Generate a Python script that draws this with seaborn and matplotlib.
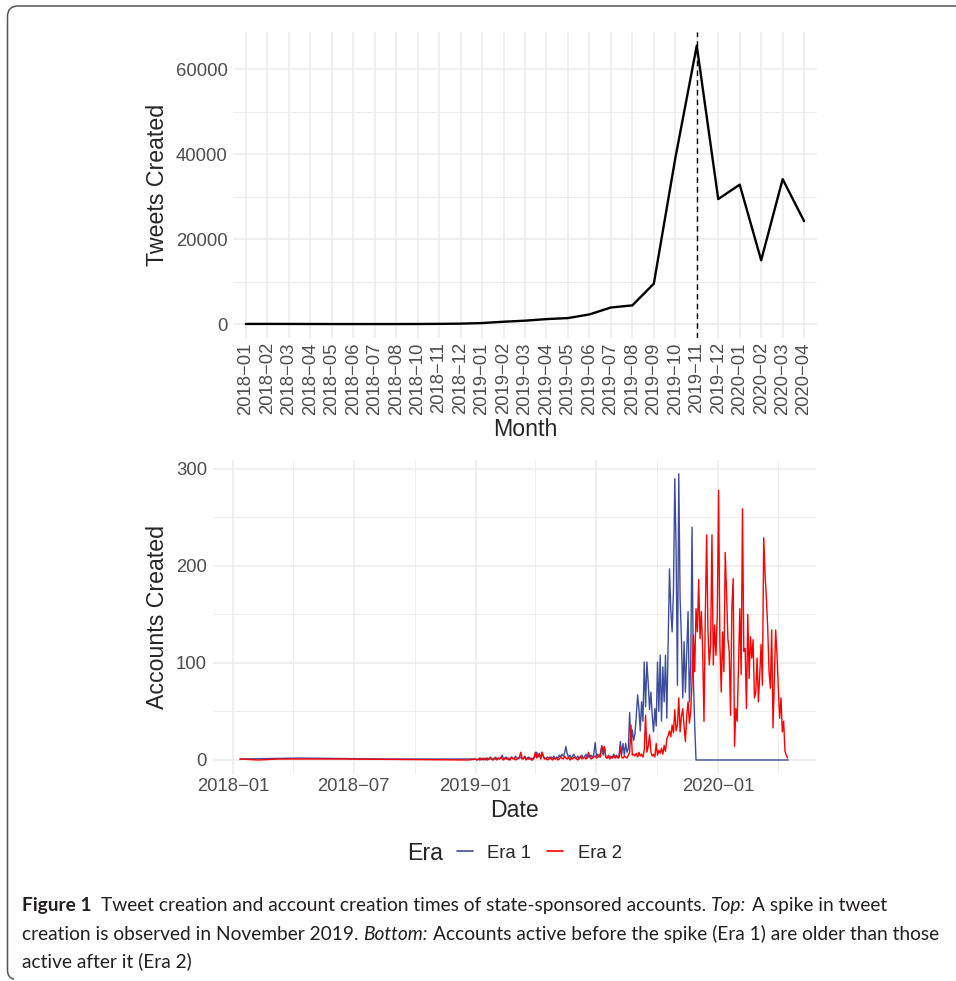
import numpy as np
import pandas as pd
import matplotlib
matplotlib.use("Agg")
import matplotlib.pyplot as plt
import seaborn as sns
import matplotlib.dates as mdates
from matplotlib.path import Path
from matplotlib.patches import PathPatch

# ---------------- data ----------------
months = ["2018-01", "2018-02", "2018-03", "2018-04", "2018-05", "2018-06", "2018-07",
          "2018-08", "2018-10", "2018-11", "2018-12",
          "2019-01", "2019-02", "2019-03", "2019-04", "2019-05", "2019-06", "2019-07",
          "2019-08", "2019-09", "2019-10", "2019-11", "2019-12",
          "2020-01", "2020-02", "2020-03", "2020-04"]
tweets = [30, 40, 30, 20, 10, 10, 10, 10, 20, 50, 100,
          240, 550, 800, 1170, 1410, 2270, 3900, 4400, 9500, 39000, 65500, 29400,
          32800, 15000, 34100, 24200]
spike_month = "2019-11"

era1_early_dates = ["2018-01-11", "2018-04-10", "2018-08-20", "2018-12-28"]
era1_early_counts = [1, 2, 1, 1]
era2_early_dates = ["2018-01-11", "2018-02-08", "2018-03-10", "2018-06-15", "2018-12-22"]
era2_early_counts = [1, 0, 1, 1, 0]

grid_start = "2019-01-01"   # regular samples every 2 days from here
grid_step = "2D"

era1_counts = [
    1, 0, 1, 2, 0, 1, 2, 1, 0, 2, 1, 1, 2, 0, 1, 3, 1, 2, 1, 2,
    5, 1, 2, 3, 1, 2, 0, 3, 2, 1, 4, 2, 1, 2, 3, 1, 2, 4, 1, 2,
    3, 1, 2, 0, 2, 4, 8, 3, 6, 2, 8, 4, 2, 1, 3, 2, 1, 3, 2, 4,
    1, 3, 2, 5, 3, 6, 4, 7, 14, 6, 3, 5, 2, 4, 6, 3, 2, 4, 1, 3,
    5, 2, 3, 6, 2, 4, 3, 5, 2, 6,
    18, 4, 6, 3, 7, 15, 5, 13, 3, 2,
    5, 3, 4, 2, 6, 3, 5, 2, 4, 19,
    6, 17, 5, 17, 8, 12, 49, 17, 31, 20,
    27, 45, 67, 53, 30, 60, 40, 101, 55, 101,
    79, 52, 70, 46, 29, 53, 35, 101, 50, 108,
    40, 96, 60, 108, 43, 120, 197, 155, 132, 174,
    290, 216, 77, 295, 167, 125, 64, 122, 70, 112,
    153, 60, 98, 240, 84, 36]
era1_tail_dates = ["2019-11-29", "2020-04-16"]
era1_tail_counts = [0, 0]

era2_counts = [
    1, 0, 1, 0, 2, 1, 0, 1, 2, 0, 1, 3, 1, 0, 2, 1, 0, 2, 1, 3,
    1, 0, 2, 1, 2, 0, 1, 3, 1, 2, 0, 1, 2, 3, 8, 2, 1, 3, 0, 2,
    1, 2, 0, 1, 3, 8, 2, 4, 7, 1, 8, 3, 1, 2, 0, 1, 3, 1, 0, 2,
    1, 2, 0, 1, 3, 2, 1, 4, 2, 1, 3, 0, 2, 1, 3, 2, 1, 0, 2, 4,
    1, 2, 3, 1, 2, 8, 3, 1, 2, 3,
    4, 2, 3, 5, 3, 14, 10, 14, 3, 2,
    4, 1, 3, 2, 5, 2, 3, 4, 2, 14,
    3, 2, 4, 3, 2, 5, 8, 36, 5, 6,
    4, 7, 3, 8, 4, 6, 3, 10, 46, 8,
    14, 26, 8, 4, 6, 3, 17, 5, 10, 7,
    12, 6, 15, 9, 22, 25, 30, 24, 36, 28,
    52, 30, 36, 64, 29, 45, 53, 35, 19, 46,
    60, 38, 50, 81, 129, 91, 156, 132, 186, 125,
    153, 112, 40, 150, 232, 132, 98, 119, 232, 98,
    139, 108, 150, 278, 119, 70, 132, 91, 214, 172,
    125, 112, 46, 156, 187, 14, 53, 40, 100, 156,
    88, 259, 112, 115, 53, 150, 84, 127, 105, 124,
    64, 70, 105, 60, 88, 119, 77, 229, 191, 167,
    136, 91, 74, 134, 33, 84, 134, 108, 74, 43,
    64, 29, 40, 9, 5, 2]

era_names = ["Era 1", "Era 2"]
era_colors = ["#3D4D9E", "#FF0000"]

date_tick_values = ["2018-01-01", "2018-07-01", "2019-01-01", "2019-07-01", "2020-01-01"]
date_tick_labels = ["2018\u221201", "2018\u221207", "2019\u221201", "2019\u221207", "2020\u221201"]
date_minor_values = ["2018-04-01", "2018-10-01", "2019-04-01", "2019-10-01", "2020-04-01"]

caption_lines = [
    [("Figure 1", "b", 0),
     ("Tweet creation and account creation times of state-sponsored accounts.", "n", 2),
     ("Top:", "i", 1), ("A spike in tweet", "n", 1)],
    [("creation is observed in November 2019.", "n", 0), ("Bottom:", "i", 1),
     ("Accounts active before the spike (Era 1) are older than those", "n", 1)],
    [("active after it (Era 2)", "n", 0)],
]


def build_series(early_d, early_c, counts, tail_d=(), tail_c=()):
    d = (list(pd.to_datetime(early_d))
         + list(pd.date_range(grid_start, periods=len(counts), freq=grid_step))
         + list(pd.to_datetime(list(tail_d))))
    c = list(early_c) + list(counts) + list(tail_c)
    return d, c


d1, c1 = build_series(era1_early_dates, era1_early_counts, era1_counts,
                      era1_tail_dates, era1_tail_counts)
d2, c2 = build_series(era2_early_dates, era2_early_counts, era2_counts)
df2 = pd.DataFrame({"Date": d1 + d2, "Accounts": c1 + c2,
                    "Era": [era_names[0]] * len(d1) + [era_names[1]] * len(d2)})
df1 = pd.DataFrame({"Month": months, "Tweets": tweets})

# ---------------- style ----------------
sns.set_style("white")
plt.rcParams["font.family"] = ["Liberation Sans", "DejaVu Sans"]
TICK = 13.3
TITLE = 16.7
GRID = "#EBEBEB"
TCOL = "#4D4D4D"

W, H = 956, 981
fig = plt.figure(figsize=(W / 100, H / 100), dpi=100)
fig.patch.set_facecolor("white")


def rect(l, t, r, b):
    return [l / W, 1 - b / H, (r - l) / W, (b - t) / H]


ax1 = fig.add_axes(rect(233, 31.7, 817, 338))
ax2 = fig.add_axes(rect(212.6, 459.5, 815.7, 774.3))

# ---------------- top panel ----------------
sns.lineplot(data=df1, x="Month", y="Tweets", ax=ax1, color="black", lw=1.7, sort=False)
n = len(months)
ax1.set_xlim(-0.6, n - 1 + 0.6)
ax1.set_xticks(range(n))
ax1.set_xticklabels([m.replace("-", "\u2212") for m in months], rotation=90)
ymax = max(tweets)
ax1.set_ylim(-0.05 * ymax, 1.05 * ymax)
ax1.set_yticks([0, 20000, 40000, 60000])
ax1.set_yticks([10000, 30000, 50000], minor=True)
ax1.set_yticklabels(["0", "20000", "40000", "60000"])
ax1.axvline(months.index(spike_month), color="black", lw=1.0, ls=(0, (4, 3)), zorder=3)
ax1.grid(which="major", color=GRID, lw=1.1)
ax1.grid(which="minor", axis="y", color=GRID, lw=0.6)
ax1.set_axisbelow(True)
ax1.tick_params(axis="both", which="both", length=0, labelsize=TICK, labelcolor=TCOL)
ax1.tick_params(axis="x", pad=3)
ax1.tick_params(axis="y", pad=4)
ax1.set_xlabel("Month", fontsize=TITLE, va="center")
ax1.set_ylabel("Tweets Created", fontsize=TITLE, va="center")
ax1.xaxis.set_label_coords(0.5, -0.300)
ax1.yaxis.set_label_coords((158 - 233) / 584, 0.5)
for s in ax1.spines.values():
    s.set_visible(False)

# ---------------- bottom panel ----------------
sns.lineplot(data=df2, x="Date", y="Accounts", hue="Era", hue_order=era_names,
             palette=dict(zip(era_names, era_colors)), ax=ax2, lw=1.0,
             estimator=None, sort=True)
dn = mdates.date2num(df2["Date"])
span = dn.max() - dn.min()
ax2.set_xlim(dn.min() - 0.05 * span, dn.max() + 0.05 * span)
amax = df2["Accounts"].max()
ax2.set_ylim(-0.05 * amax, 1.05 * amax)
ax2.set_xticks(mdates.date2num(pd.to_datetime(date_tick_values)))
ax2.set_xticklabels(date_tick_labels)
ax2.set_xticks(mdates.date2num(pd.to_datetime(date_minor_values)), minor=True)
ax2.set_yticks([0, 100, 200, 300])
ax2.set_yticks([50, 150, 250], minor=True)
ax2.grid(which="major", color=GRID, lw=1.1)
ax2.grid(which="minor", color=GRID, lw=0.6)
ax2.set_axisbelow(True)
ax2.tick_params(axis="both", which="both", length=0, labelsize=TICK, labelcolor=TCOL)
ax2.tick_params(axis="x", pad=3)
ax2.tick_params(axis="y", pad=4)
ax2.set_xlabel("Date", fontsize=TITLE, va="center")
ax2.set_ylabel("Accounts Created", fontsize=TITLE, va="center")
ax2.xaxis.set_label_coords(0.5, -0.115)
ax2.yaxis.set_label_coords((158 - 212.6) / 603.1, 0.5)
for s in ax2.spines.values():
    s.set_visible(False)

handles, labels = ax2.get_legend_handles_labels()
if ax2.get_legend() is not None:
    ax2.get_legend().remove()
leg = fig.legend(handles, labels, loc="center left", bbox_to_anchor=(456.5 / W, 1 - 853 / H),
                 ncol=2, frameon=False, fontsize=TICK, handlelength=0.87,
                 handletextpad=0.8, columnspacing=0.85, borderpad=0, borderaxespad=0)
for h in leg.legend_handles:
    h.set_linewidth(1.2)
fig.text(407 / W, 1 - 853 / H, "Era", fontsize=TITLE, ha="left", va="center")

# ---------------- caption ----------------
CAP_FONT = "Lato"
CAP_COL = "#231F20"
renderer = fig.canvas.get_renderer()


def make_text(x, y, txt, style, size):
    return fig.text(x / W, 1 - y / H, txt, fontsize=size, family=CAP_FONT,
                    fontweight="bold" if style == "b" else "normal",
                    fontstyle="italic" if style == "i" else "normal",
                    ha="left", va="center", color=CAP_COL)


def space_width(size):
    a = make_text(0, 0, "n n", "n", size)
    b = make_text(0, 0, "nn", "n", size)
    w = a.get_window_extent(renderer).width - b.get_window_extent(renderer).width
    a.remove(); b.remove()
    return w


def draw_line(runs, y, size, draw=True):
    sw = space_width(size)
    x = 22.0
    for txt, style, gap in runs:
        x += gap * sw
        t = make_text(x, y, txt, style, size)
        x += t.get_window_extent(renderer).width
        if not draw:
            t.remove()
    return x - 22.0


base = 12.0
wtest = draw_line(caption_lines[1], 0, base, draw=False)
cap_size = base * 918.0 / wtest
for runs, y in zip(caption_lines, [906, 934, 961]):
    draw_line(runs, y, cap_size)

# ---------------- frame ----------------
def P(x, y):
    return (x / W, 1 - y / H)


verts = [P(956, 6), P(18, 6), P(7.5, 6), P(7.5, 16.5), P(7.5, 970), P(7.5, 978), P(14, 979)]
codes = [Path.MOVETO, Path.LINETO, Path.CURVE3, Path.CURVE3, Path.LINETO, Path.CURVE3, Path.CURVE3]
fig.add_artist(PathPatch(Path(verts, codes), transform=fig.transFigure,
                         fill=False, edgecolor="#555555", lw=1.1))

fig.savefig("out.png", dpi=100, facecolor="white")
